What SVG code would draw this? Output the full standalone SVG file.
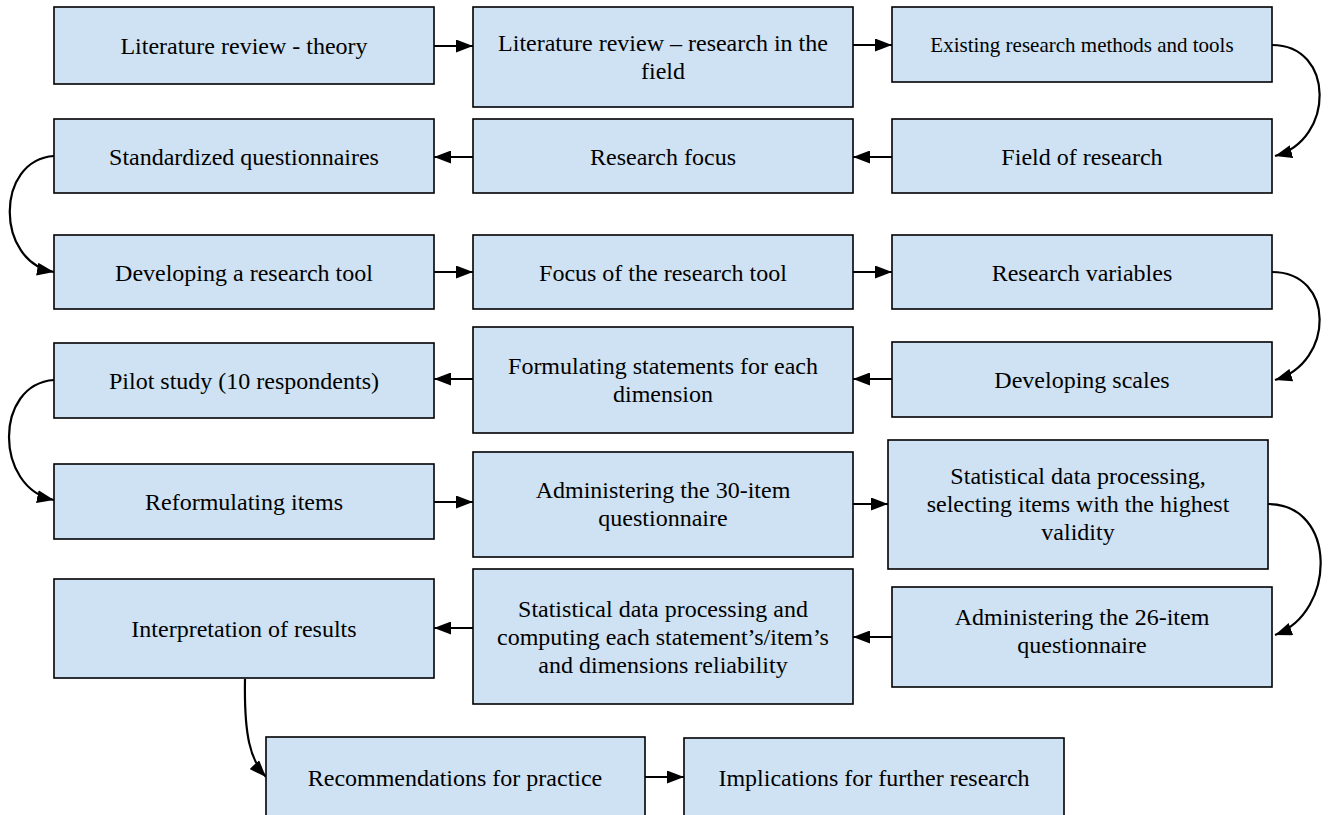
<svg xmlns="http://www.w3.org/2000/svg" width="1328" height="815" viewBox="0 0 1328 815">
<style>
.box rect{fill:#cfe2f3;stroke:#000;stroke-width:1.6}
.box text{font-family:"Liberation Serif","Times New Roman",serif;font-size:24px;fill:#000;text-anchor:middle}
.conn path{fill:none;stroke:#000;stroke-width:2.2;marker-end:url(#ah)}
</style>
<defs>
<marker id="ah" markerUnits="userSpaceOnUse" markerWidth="17" markerHeight="13" viewBox="0 0 17 13" refX="17" refY="6.5" orient="auto">
<path d="M0,0 L17,6.5 L0,13 Z" fill="#000"/>
</marker>
</defs>
<rect width="1328" height="815" fill="#fff"/>
<g id="connectors" class="conn">
<path d="M434,46 H473"/>
<path d="M853,45 H892"/>
<path d="M1272,45 C1335,45 1335,140 1275,156"/>
<path d="M892,157 H853"/>
<path d="M473,157 H434"/>
<path d="M54,156 C-5,160 -5,262 54,272"/>
<path d="M434,272 H473"/>
<path d="M853,272 H892"/>
<path d="M1272,272 C1335,272 1335,362 1275,380"/>
<path d="M892,379 H853"/>
<path d="M473,379 H434"/>
<path d="M54,380 C-6,384 -6,488 54,500"/>
<path d="M434,502 H473"/>
<path d="M853,504 H888"/>
<path d="M1268,504 C1337,504 1337,612 1275,635"/>
<path d="M892,637 H853"/>
<path d="M473,628 H434"/>
<path d="M245,679 C244,735 250,760 266,777"/>
<path d="M645,777 H684"/>
</g>
<g id="n1" class="box"><rect x="54" y="7" width="380" height="77"/><text x="244" y="54">Literature review - theory</text></g>
<g id="n2" class="box"><rect x="473" y="7" width="380" height="100"/><text x="663" y="51">Literature review – research in the</text><text x="663" y="79">field</text></g>
<g id="n3" class="box"><rect x="892" y="7" width="380" height="75"/><text x="1082" y="52" style="font-size:21px">Existing research methods and tools</text></g>
<g id="n4" class="box"><rect x="54" y="119" width="380" height="74"/><text x="244" y="165">Standardized questionnaires</text></g>
<g id="n5" class="box"><rect x="473" y="119" width="380" height="74"/><text x="663" y="165">Research focus</text></g>
<g id="n6" class="box"><rect x="892" y="119" width="380" height="74"/><text x="1082" y="165">Field of research</text></g>
<g id="n7" class="box"><rect x="54" y="235" width="380" height="74"/><text x="244" y="281">Developing a research tool</text></g>
<g id="n8" class="box"><rect x="473" y="235" width="380" height="74"/><text x="663" y="281">Focus of the research tool</text></g>
<g id="n9" class="box"><rect x="892" y="235" width="380" height="74"/><text x="1082" y="281">Research variables</text></g>
<g id="n10" class="box"><rect x="54" y="343" width="380" height="75"/><text x="244" y="389">Pilot study (10 respondents)</text></g>
<g id="n11" class="box"><rect x="473" y="327" width="380" height="106"/><text x="663" y="374">Formulating statements for each</text><text x="663" y="402">dimension</text></g>
<g id="n12" class="box"><rect x="892" y="342" width="380" height="75"/><text x="1082" y="388">Developing scales</text></g>
<g id="n13" class="box"><rect x="54" y="464" width="380" height="75"/><text x="244" y="510">Reformulating items</text></g>
<g id="n14" class="box"><rect x="473" y="452" width="380" height="105"/><text x="663" y="498">Administering the 30-item</text><text x="663" y="526">questionnaire</text></g>
<g id="n15" class="box"><rect x="888" y="440" width="380" height="129"/><text x="1078" y="484">Statistical data processing,</text><text x="1078" y="512">selecting items with the highest</text><text x="1078" y="540">validity</text></g>
<g id="n16" class="box"><rect x="54" y="579" width="380" height="99"/><text x="244" y="637">Interpretation of results</text></g>
<g id="n17" class="box"><rect x="473" y="569" width="380" height="135"/><text x="663" y="617">Statistical data processing and</text><text x="663" y="645">computing each statement’s/item’s</text><text x="663" y="673">and dimensions reliability</text></g>
<g id="n18" class="box"><rect x="892" y="587" width="380" height="100"/><text x="1082" y="625">Administering the 26-item</text><text x="1082" y="653">questionnaire</text></g>
<g id="n19" class="box"><rect x="266" y="737" width="379" height="90"/><text x="455" y="786">Recommendations for practice</text></g>
<g id="n20" class="box"><rect x="684" y="738" width="380" height="90"/><text x="874" y="786">Implications for further research</text></g>
</svg>
